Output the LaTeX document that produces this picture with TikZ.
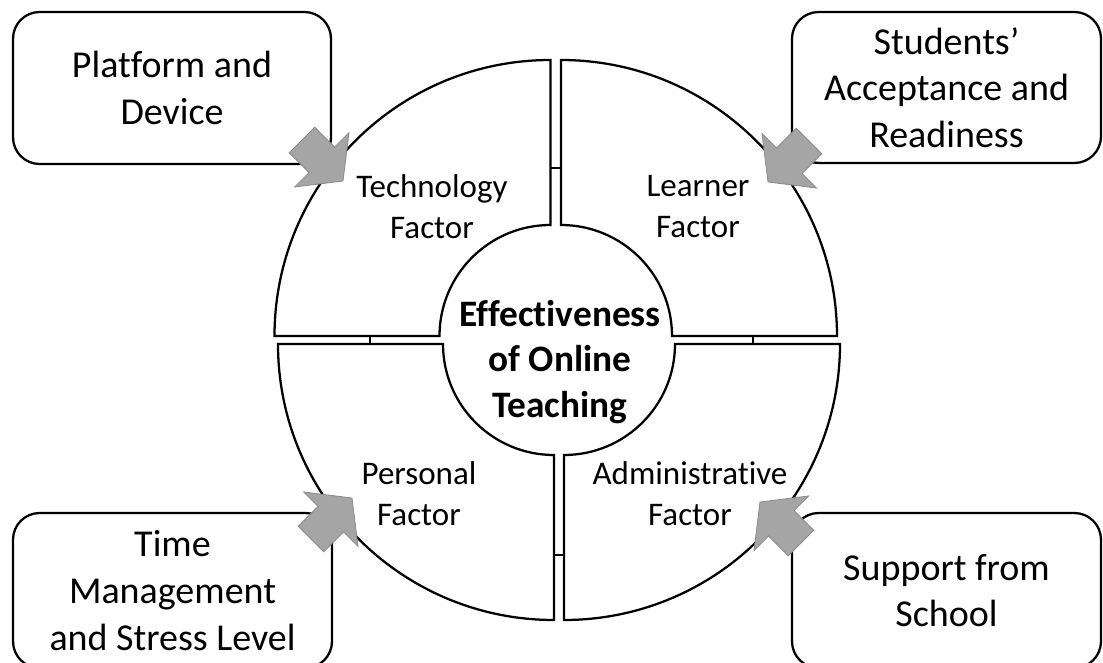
\documentclass[tikz,border=0pt]{standalone}
\usepackage{fontspec}
\setmainfont{Carlito}[Ligatures={NoCommon}]
\definecolor{arrowgray}{HTML}{A5A5A5}
\definecolor{arrowedge}{HTML}{8A8A8A}
\begin{document}
\begin{tikzpicture}[x=0.75pt,y=0.75pt,
  quad/.style={draw=black, line width=1.7pt, fill=white, line join=miter},
  link/.style={draw=black, line width=1.7pt},
  box/.style={draw=black, line width=1.7pt, fill=white, rounded corners=20pt, align=center,
    font=\fontsize{28.5}{35}\selectfont, inner sep=0pt},
  flabel/.style={align=center, font=\fontsize{24.75}{30.75}\selectfont},
  clabel/.style={align=center, font=\bfseries\fontsize{28}{34}\selectfont},
  garrow/.style={fill=arrowgray, draw=arrowedge, line width=0.6pt, line join=miter},
  blockarrow/.pic={\draw[garrow] (0,0) -- (-30,38.5) -- (-30,18) -- (-58,18) -- (-58,-18) -- (-30,-18) -- (-30,-38.5) -- cycle;}]
\useasboundingbox (0,0) rectangle (1103,662);

% quadrants
\draw[quad] (274.5,326) arc[start angle=180,end angle=90,radius=276] -- (550.5,437) arc[start angle=90,end angle=180,radius=111] -- cycle;
\draw[quad] (561,602) arc[start angle=90,end angle=0,radius=276] -- (672,326) arc[start angle=0,end angle=90,radius=111] -- cycle;
\draw[quad] (278,318) arc[start angle=180,end angle=270,radius=276] -- (554,207) arc[start angle=270,end angle=180,radius=111] -- cycle;
\draw[quad] (564,42) arc[start angle=270,end angle=360,radius=276] -- (675,318) arc[start angle=0,end angle=-90,radius=111] -- cycle;

% small links between quadrants
\coordinate (tl1) at (550.5,494); \coordinate (tr1) at (561,494);
\coordinate (tl2) at (370,326);   \coordinate (bl2) at (370,318);
\coordinate (tr3) at (753,326);   \coordinate (br3) at (753,318);
\coordinate (bl4) at (554,107);   \coordinate (br4) at (564,107);
\draw[link] (tl1) -- (tr1);
\draw[link] (tl2) -- (bl2);
\draw[link] (tr3) -- (br3);
\draw[link] (bl4) -- (br4);

% labels
\node[flabel] (tech) at (432,455) {Technology\\Factor};
\node[flabel] (learn) at (698,455) {Learner\\Factor};
\node[flabel] (pers) at (419,168) {Personal\\Factor};
\node[flabel] (admin) at (690,168) {Administrative\\Factor};
\node[clabel] (center) at (560,300) {Effectiveness\\of Online\\Teaching};

% boxes
\node[box, minimum width=238.5pt, minimum height=114pt] (platform) at (172,574) {Platform and\\Device};
\node[box, minimum width=231.75pt, minimum height=113.25pt] (students) at (946.5,574.5) {Students’\\Acceptance and\\Readiness};
\node[box, minimum width=239.25pt, minimum height=116.25pt] (time) at (172.5,71.5) {Time\\Management\\and Stress Level};
\node[box, minimum width=231.75pt, minimum height=116.25pt] (support) at (946.5,71.5) {Support from\\School};

% block arrows
\pic[rotate=-45] at (343,481) {blockarrow};
\pic[rotate=-135] at (768,480) {blockarrow};
\pic[rotate=45] at (352,164) {blockarrow};
\pic[rotate=135] at (760,160) {blockarrow};
\end{tikzpicture}
\end{document}
